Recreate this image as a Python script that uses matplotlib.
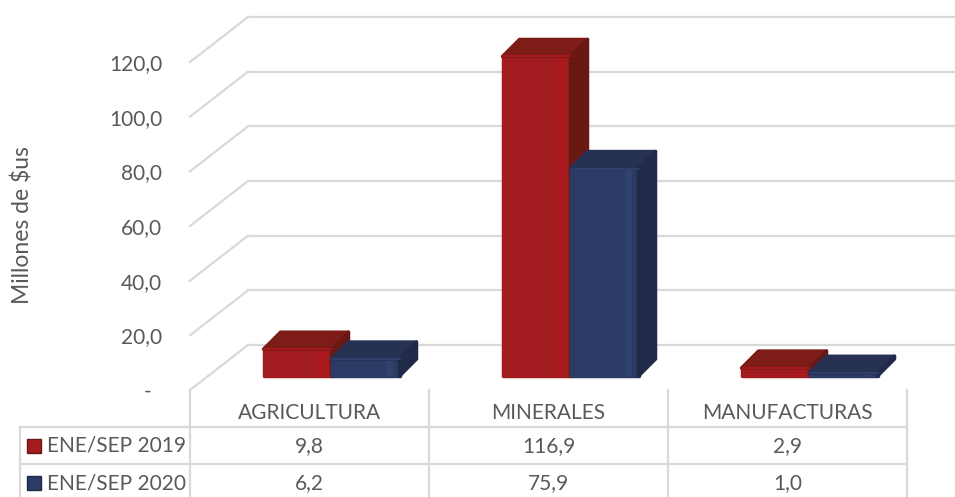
import matplotlib
matplotlib.use("Agg")
import matplotlib.pyplot as plt
from matplotlib.patches import Polygon, Rectangle
from matplotlib.lines import Line2D

categories = ["AGRICULTURA", "MINERALES", "MANUFACTURAS"]
series = ["ENE/SEP 2019", "ENE/SEP 2020"]
values_2019 = [9.8, 116.9, 2.9]
values_2020 = [6.2, 75.9, 1.0]
yticks = [0, 20, 40, 60, 80, 100, 120]
ytick_labels = ["-  ", "20,0", "40,0", "60,0", "80,0", "100,0", "120,0"]

W, H = 955, 497
TXT = "#595959"
GRID = "#d9d9d9"
plt.rcParams['font.family'] = ["Lato", "DejaVu Sans"]

# front, side, top, highlight
RED = ("#a21b1f", "#6a1814", "#7e1c18", "#ad181d")
BLUE = ("#2c3b66", "#212b49", "#263154", "#31426f")


def fx(x):
    return x / W


def fy(y):
    return 1 - y / H


fig = plt.figure(figsize=(W / 100, H / 100), dpi=100)
# front edge of the floor: 190..907 px, value 0 at y=390, 120 at y=62
ax = fig.add_axes([fx(190), fy(390), (907 - 190) / W, (390 - 62) / H])
ax.set_xlim(0, 3)
ax.set_ylim(0, 120)
for s in ax.spines.values():
    s.set_visible(False)
ax.set_xticks([])
ax.set_yticks(yticks, ytick_labels)
ax.tick_params(axis='y', length=0, pad=20, labelsize=15, labelcolor=TXT)

px_x = 239.0          # pixels per category
px_y = 328.0 / 120    # pixels per value unit
WX, WY = 58 / px_x, 45 / px_y    # back wall offset
PX, PY = 22 / px_x, 14 / px_y    # plane of the bars
DX, DY = 17 / px_x, 17 / px_y    # bar depth
BW = 68 / px_x

# walls / grid
for v in yticks:
    ax.plot([0, WX], [v, v + WY], color=GRID, lw=1.6, clip_on=False, zorder=1)
    ax.plot([WX, 3.4], [v + WY, v + WY], color=GRID, lw=1.6, clip_on=False, zorder=1)

z = [3]


def bar3d(x0, v, cols):
    front, side, top, hi = cols
    x = x0 + PX
    b = PY
    zz = z[0]
    kw = dict(clip_on=False, joinstyle='round', linewidth=2.5)
    ax.bar(x, v, width=BW, bottom=b, align='edge', color=front, edgecolor=front,
           zorder=zz, **kw)
    ax.bar(x + BW * 0.8, v, width=BW * 0.1, bottom=b, align='edge', color=hi,
           zorder=zz + 0.1, clip_on=False, linewidth=0)
    ax.add_patch(Polygon([(x, b + v), (x + BW, b + v), (x + BW + DX, b + v + DY),
                          (x + DX, b + v + DY)], closed=True, facecolor=top,
                         edgecolor=top, zorder=zz + 0.2, **kw))
    ax.add_patch(Polygon([(x + BW, b), (x + BW + DX, b + DY), (x + BW + DX, b + v + DY),
                          (x + BW, b + v)], closed=True, facecolor=side, edgecolor=side,
                         zorder=zz + 0.2, **kw))
    ax.plot([x, x + BW], [b + v, b + v], color=hi, lw=1.2, zorder=zz + 0.3,
            clip_on=False, solid_capstyle='round')
    z[0] += 1


for i in range(len(categories)):
    bar3d(i + 0.5 - BW, values_2019[i], RED)
    bar3d(i + 0.5, values_2020[i], BLUE)

fig.text(fx(22), fy(225), "Millones de $us", rotation=90, ha='center', va='center',
         fontsize=16.5, color=TXT)


# data table
def hline(x1, x2, y):
    fig.add_artist(Line2D([fx(x1), fx(x2)], [fy(y), fy(y)], transform=fig.transFigure,
                          color=GRID, lw=1.6))


def vline(x, y1, y2):
    fig.add_artist(Line2D([fx(x), fx(x)], [fy(y1), fy(y2)], transform=fig.transFigure,
                          color=GRID, lw=1.6))


col_x = [190 + i * px_x for i in range(len(categories) + 1)]
for y in [427, 464]:
    hline(20, col_x[-1], y)
vline(20, 427, 500)
for x in col_x:
    vline(x, 390, 500)

for i, c in enumerate(categories):
    cx = col_x[i] + px_x / 2
    fig.text(fx(cx), fy(413), c, ha='center', va='center', fontsize=15, color=TXT)
    fig.text(fx(cx), fy(446), f"{values_2019[i]:.1f}".replace('.', ','), ha='center',
             va='center', fontsize=15, color=TXT)
    fig.text(fx(cx), fy(483), f"{values_2020[i]:.1f}".replace('.', ','), ha='center',
             va='center', fontsize=15, color=TXT)

for name, cols, yc in [(series[0], RED, 446), (series[1], BLUE, 483)]:
    fig.add_artist(Rectangle((fx(27), fy(yc + 7)), 14 / W, 14 / H, transform=fig.transFigure,
                             facecolor=cols[0], edgecolor=cols[1], lw=1))
    fig.text(fx(47), fy(yc), name, ha='left', va='center', fontsize=15, color=TXT)

fig.savefig("out.png", dpi=100)
